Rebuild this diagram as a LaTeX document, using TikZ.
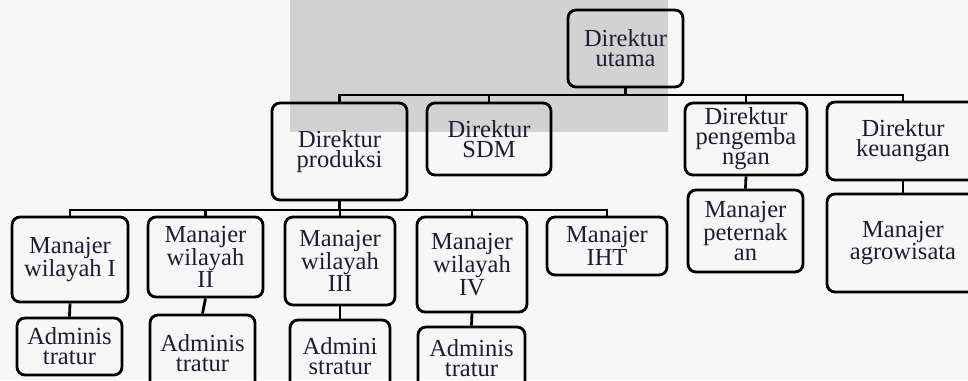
\documentclass[tikz,border=0pt]{standalone}
\usepackage{fontspec}
\setmainfont{Liberation Serif}
\definecolor{txt}{RGB}{28,28,52}
\definecolor{bggray}{RGB}{210,210,210}
\definecolor{paper}{RGB}{247,247,247}
\tikzset{
  box/.style={draw=black, line width=2.8pt, rounded corners=8pt, inner sep=0pt,
    align=center, text=txt, font=\fontsize{24.5}{20}\selectfont},
  link/.style={draw=black, line width=2.8pt}
}
\newcommand{\bx}[6]{% name, left, right, top, bottom, text
  \node[box, minimum width={(#3)-(#2)}, minimum height={(#5)-(#4)}] (#1)
    at ({((#2)+(#3))/2},{((#4)+(#5))/2}) {#6};}
\begin{document}
\begin{tikzpicture}[x=1pt,y=-1pt]
\useasboundingbox (0,0) rectangle (968,380);
\fill[paper] (0,0) rectangle (968,380);
\fill[bggray] (290,0) rectangle (668,132);
\bx{du}{568}{683}{10}{87}{Direktur\\utama}
\bx{dp}{272}{407}{103}{200}{Direktur\\produksi}
\bx{sdm}{427}{551}{103}{175}{Direktur\\SDM}
\bx{dpg}{685}{807}{103}{175}{Direktur\\pengemba\\ngan}
\bx{dk}{827}{979}{102}{180}{Direktur\\keuangan}
\bx{mp}{688}{803}{190}{272}{Manajer\\peternak\\an}
\bx{ma}{827}{979}{194}{292}{Manajer\\agrowisata}
\bx{mA}{12}{128}{217}{302}{Manajer\\wilayah I}
\bx{aA}{17}{122}{318}{375}{Adminis\\tratur}
\bx{mB}{148}{263}{217}{297}{Manajer\\wilayah\\II}
\bx{aB}{150}{255}{315}{392}{Adminis\\tratur}
\bx{mC}{285}{395}{217}{305}{Manajer\\wilayah\\III}
\bx{aC}{290}{390}{320}{392}{Admini\\stratur}
\bx{mD}{417}{527}{217}{312}{Manajer\\wilayah\\IV}
\bx{aD}{418}{525}{327}{390}{Adminis\\tratur}
\bx{mI}{547}{667}{217}{275}{Manajer\\IHT}
\coordinate (busA) at (0,95);
\coordinate (busB) at (0,210);
% level 1
\draw[link] (du.south) -- (du.south |- busA);
\draw[link] (dp.north) |- (dk.north |- busA) -- (dk.north);
\draw[link] (sdm.north) -- (sdm.north |- busA);
\draw[link] (dpg.north) -- (dpg.north |- busA);
% level 2
\draw[link] (dp.south) -- (dp.south |- busB);
\draw[link] (mA.north) |- (mI.north |- busB) -- (mI.north);
\draw[link] (mB.north) -- (mB.north |- busB);
\draw[link] (mC.north) -- (mC.north |- busB);
\draw[link] (mD.north) -- (mD.north |- busB);
% level 3
\draw[link] (mA.south) -- (aA.north);
\draw[link] (mB.south) -- (aB.north);
\draw[link] (mC.south) -- (aC.north);
\draw[link] (mD.south) -- (aD.north);
\draw[link] (dpg.south) -- (mp.north);
\draw[link] (dk.south) -- (ma.north);
\end{tikzpicture}
\end{document}
